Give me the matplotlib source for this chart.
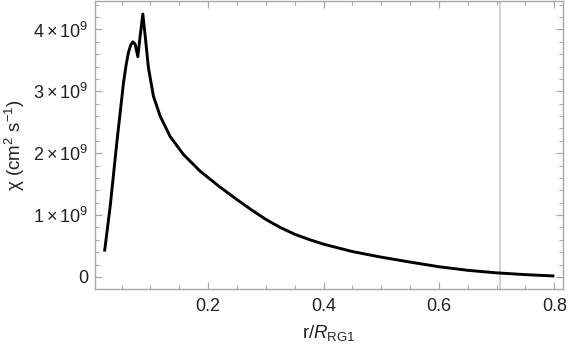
import matplotlib
matplotlib.use("Agg")
import matplotlib.pyplot as plt
from matplotlib.ticker import MultipleLocator, FuncFormatter

# data
r_vals = [0.0205, 0.0303, 0.0418, 0.0534, 0.058, 0.062, 0.066, 0.0696, 0.0736, 0.0782,
          0.0823, 0.0869, 0.0909, 0.0966, 0.1053, 0.1169, 0.1342, 0.1572, 0.1861, 0.221,
          0.250, 0.275, 0.300, 0.325, 0.350, 0.375, 0.400, 0.450, 0.500, 0.550,
          0.600, 0.650, 0.700, 0.750, 0.800]
chi_vals = [0.41, 1.14, 2.17, 3.14, 3.43, 3.63, 3.75, 3.80, 3.76, 3.56,
            3.90, 4.25, 3.90, 3.38, 2.92, 2.60, 2.27, 1.98, 1.71, 1.45,
            1.25, 1.085, 0.93, 0.80, 0.69, 0.605, 0.53, 0.41, 0.32, 0.24,
            0.165, 0.107, 0.066, 0.037, 0.015]
chi_vals = [v * 1e9 for v in chi_vals]
vline_r = 0.705

plt.rcParams['font.family'] = ['Liberation Sans', 'DejaVu Sans']
plt.rcParams['mathtext.fontset'] = 'custom'
plt.rcParams['mathtext.rm'] = 'Liberation Sans'
plt.rcParams['mathtext.it'] = 'Liberation Sans:italic'

fig = plt.figure(figsize=(5.68, 3.47), dpi=100)
ax = fig.add_axes([95/568, 58/347, 468/568, 288/347])

ax.axvline(vline_r, color='#c8c8c8', lw=1.2, zorder=1)
ax.plot(r_vals, chi_vals, color='black', lw=2.1, zorder=3,
        solid_joinstyle='round', solid_capstyle='butt')

ax.set_xlim(0.004, 0.815)
ax.set_ylim(-0.195e9, 4.46e9)

ax.xaxis.set_major_locator(MultipleLocator(0.2))
ax.xaxis.set_minor_locator(MultipleLocator(0.05))
ax.yaxis.set_major_locator(MultipleLocator(1e9))
ax.yaxis.set_minor_locator(MultipleLocator(0.2e9))

def yfmt(v, pos):
    n = int(round(v / 1e9))
    if n == 0:
        return '0'
    return r'$\mathregular{%d\times10^{9}}$' % n

ax.yaxis.set_major_formatter(FuncFormatter(yfmt))
ax.xaxis.set_major_formatter(FuncFormatter(lambda v, p: '%.1f' % v))

for s in ax.spines.values():
    s.set_color('#a8a8a8')
    s.set_linewidth(1.0)

ax.tick_params(which='both', direction='in', top=True, right=True, color='#a8a8a8',
               labelcolor='#222222')
ax.tick_params(axis='x', which='major', labelsize=13, pad=6.5)
ax.tick_params(axis='y', which='major', labelsize=13, pad=5)
ax.tick_params(which='major', length=5, width=0.9)
ax.tick_params(which='minor', length=2.7, width=0.8)

ax.set_xlabel(r'r/$\mathit{R}_{\mathregular{RG1}}$', fontsize=13.5, color='#222222', labelpad=6)
ax.set_ylabel(r'$\mathregular{\chi\ (cm^{2}\ s^{-1})}$', fontsize=13.5, color='#222222', labelpad=4)

fig.savefig('out.png', dpi=100)
